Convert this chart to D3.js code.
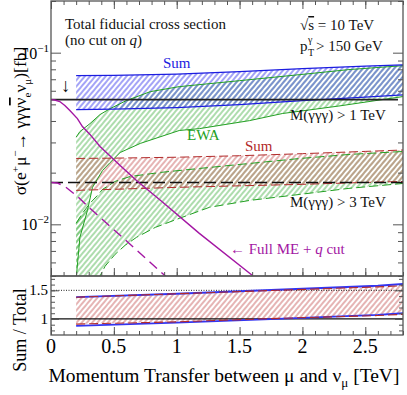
<!DOCTYPE html>
<html>
<head>
<meta charset="utf-8">
<title>Total fiducial cross section</title>
<script src="https://d3js.org/d3.v7.min.js"></script>
<style>
  body { margin: 0; background: #fff; }
  svg, svg text { font-family: 'Liberation Serif', 'Times New Roman', Times, 'DejaVu Serif', serif; }
  .frame { fill: none; stroke: #555; stroke-width: 1.3; }
  .axis .domain { display: none; }
  .axis .tick line { stroke: #555; stroke-width: 1; }
</style>
</head>
<body>
<svg id="chart" width="407" height="395" font-family="Liberation Serif, Times New Roman, serif"></svg>
<script>
// ---- data ----
const qSum    = [0.2, 0.5, 1.0, 1.5, 2.0, 2.5, 2.8];
const sum1Up  = [0.0735, 0.0737, 0.0750, 0.0775, 0.0807, 0.0835, 0.0848];
const sum1Lo  = [0.0466, 0.0469, 0.0479, 0.0498, 0.0526, 0.0551, 0.0568];
const sum3Up  = [0.0242, 0.0243, 0.0246, 0.0251, 0.0258, 0.0266, 0.0271];
const sum3Lo  = [0.01577, 0.01599, 0.01642, 0.01676, 0.01710, 0.01754, 0.01778];

const ewa1UpQ = [0.2, 0.23, 0.31, 0.39, 0.47, 0.6, 0.79, 1.02, 1.5, 1.98, 2.37, 2.8];
const ewa1Up  = [0.0322, 0.0347, 0.0386, 0.0436, 0.0472, 0.0526, 0.0593, 0.0634, 0.0687, 0.0745, 0.0797, 0.0840];
const ewa1LoQ = [0.2, 0.23, 0.29, 0.33, 0.41, 0.47, 0.55, 0.71, 1.02, 1.18, 1.58, 1.84, 2.29, 2.8];
const ewa1Lo  = [0.0048, 0.0084, 0.01206, 0.01641, 0.0206, 0.0229, 0.0262, 0.0296, 0.0352, 0.0361, 0.0402, 0.0442, 0.0489, 0.0555];

const ewa3UpQ = [0.2, 0.25, 0.31, 0.37, 0.41, 0.51, 0.63, 0.87, 1.18, 1.58, 1.98, 2.37, 2.8];
const ewa3Up  = [0.01014, 0.01159, 0.01325, 0.01475, 0.01598, 0.01778, 0.0190, 0.02006, 0.02116, 0.02263, 0.02419, 0.02553, 0.02657];
const ewa3LoQ = [0.2, 0.39, 0.43, 0.51, 0.59, 0.68, 0.83, 1.02, 1.26, 1.58, 1.98, 2.37, 2.8];
const ewa3Lo  = [0.0025, 0.00498, 0.0057, 0.00669, 0.00755, 0.0084, 0.0096, 0.01083, 0.01256, 0.01378, 0.01494, 0.0162, 0.0173];

const fullQ   = [0, 0.03, 0.07, 0.11, 0.15, 0.21, 0.25, 0.31, 0.39, 0.55, 0.68, 0.87, 1.18, 1.6];
const full1   = [0.0533, 0.0530, 0.0519, 0.0492, 0.0460, 0.0413, 0.0371, 0.0334, 0.0284, 0.0220, 0.0180, 0.0138, 0.00886, 0.00505];
const full3Q  = [0, 0.05, 0.11, 0.21, 0.31, 0.55, 0.92];
const full3   = [0.01754, 0.01742, 0.01663, 0.01455, 0.01239, 0.00863, 0.00492];

const total1 = 0.0533;   // black solid, M > 1 TeV
const total3 = 0.01754;  // black dashed, M > 3 TeV

const ratioQ      = [0.2, 1.0, 1.8, 2.6, 2.8];
const ratioRedUp  = [1.38, 1.44, 1.50, 1.56, 1.58];
const ratioRedLo  = [0.91, 0.95, 1.01, 1.06, 1.08];
const ratioBlueUp = [1.38, 1.44, 1.51, 1.58, 1.61];
const ratioBlueLo = [0.88, 0.935, 1.0, 1.07, 1.10];

const xTicks = [0, 0.5, 1, 1.5, 2, 2.5];

// ---- colours ----
const BLUE = '#1c1ce0', GREEN = '#22a022', RED = '#b22a2a', PURPLE = '#a316a3';

const zip = (q, v) => q.map((d, i) => ({ q: d, v: v[i] }));

const svg = d3.select('#chart');
const L = 51, R = 403, T = 1, B1 = 276, B2 = 335;

const x = d3.scaleLinear().domain([0, 2.8]).range([L, R]);
const y = d3.scaleLog().domain([0.005, 0.2]).range([B1, T]);
const yr = d3.scaleLinear().domain([0.72, 1.75]).range([B2, B1]);

const defs = svg.append('defs');
defs.append('clipPath').attr('id', 'clipMain')
  .append('rect').attr('x', L).attr('y', T).attr('width', R - L).attr('height', B1 - T);
defs.append('clipPath').attr('id', 'clipRatio')
  .append('rect').attr('x', L).attr('y', B1).attr('width', R - L).attr('height', B2 - B1);

function hatch(id, color) {
  const p = defs.append('pattern').attr('id', id)
    .attr('patternUnits', 'userSpaceOnUse')
    .attr('width', 4).attr('height', 4)
    .attr('patternTransform', 'rotate(40)');
  p.append('line').attr('x1', 2).attr('y1', 0).attr('x2', 2).attr('y2', 4)
    .attr('stroke', color).attr('stroke-width', 1);
}
hatch('hBlue', '#4848ee');
hatch('hGreen', '#5cba5c');
hatch('hRed', '#cc6a6a');

const main = svg.append('g').attr('clip-path', 'url(#clipMain)');
const ratio = svg.append('g').attr('clip-path', 'url(#clipRatio)');

const lineM = d3.line().x(d => x(d.q)).y(d => y(d.v));
const lineR = d3.line().x(d => x(d.q)).y(d => yr(d.v));

// band polygon: upper forward, lower back
function band(g, line, up, lo, fill) {
  g.append('path')
    .attr('d', line(up.concat(lo.slice().reverse())) + 'Z')
    .attr('fill', fill).attr('stroke', 'none');
}
function curve(g, line, data, color, width, dash) {
  g.append('path').attr('d', line(data))
    .attr('fill', 'none').attr('stroke', color)
    .attr('stroke-width', width)
    .attr('stroke-dasharray', dash || null);
}

// hatched bands
band(main, lineM, zip(ewa3UpQ, ewa3Up), zip(ewa3LoQ, ewa3Lo), 'url(#hGreen)');
band(main, lineM, zip(ewa1UpQ, ewa1Up), zip(ewa1LoQ, ewa1Lo), 'url(#hGreen)');
band(main, lineM, zip(qSum, sum3Up), zip(qSum, sum3Lo), 'url(#hRed)');
band(main, lineM, zip(qSum, sum1Up), zip(qSum, sum1Lo), 'url(#hBlue)');

// band edges
curve(main, lineM, zip(ewa1UpQ, ewa1Up), GREEN, 1);
curve(main, lineM, zip(ewa1LoQ, ewa1Lo), GREEN, 1);
curve(main, lineM, zip(ewa3UpQ, ewa3Up), GREEN, 1, '9,4');
curve(main, lineM, zip(ewa3LoQ, ewa3Lo), GREEN, 1, '9,4');
curve(main, lineM, zip(qSum, sum3Up), RED, 1, '9,4');
curve(main, lineM, zip(qSum, sum3Lo), RED, 1, '9,4');
curve(main, lineM, zip(qSum, sum1Up), BLUE, 1.2);
curve(main, lineM, zip(qSum, sum1Lo), BLUE, 1.2);

// totals
curve(main, lineM, zip([0, 2.76], [total1, total1]), '#222', 1.6);
curve(main, lineM, zip([0, 2.8], [total3, total3]), '#111', 1.5, '12,5');

// full ME + q cut
curve(main, lineM, zip(fullQ, full1), PURPLE, 1.4);
curve(main, lineM, zip(full3Q, full3), PURPLE, 1.4, '10,6');

// ratio panel
band(ratio, lineR, zip(ratioQ, ratioRedUp), zip(ratioQ, ratioRedLo), 'url(#hRed)');
curve(ratio, lineR, zip([0, 2.8], [1.5, 1.5]), '#222', 1, '1,1.5');
curve(ratio, lineR, zip([0, 2.8], [1, 1]), '#111', 1.3);
curve(ratio, lineR, zip(ratioQ, ratioBlueUp), '#3434f0', 1.8);
curve(ratio, lineR, zip(ratioQ, ratioBlueLo), '#3434f0', 1.8);
curve(ratio, lineR, zip(ratioQ, ratioRedUp), RED, 1.1, '9,4');
curve(ratio, lineR, zip(ratioQ, ratioRedLo), RED, 1.1, '9,4');

// ---- axes (ticks pointing inward) ----
const xMinor = d3.range(0, 2.81, 0.1).map(d => +d.toFixed(1));
function xAxes(yPos, dir, g) {
  const ax = dir > 0 ? d3.axisBottom : d3.axisTop;
  g.append('g').attr('class', 'axis').attr('transform', `translate(0,${yPos})`)
    .call(ax(x).tickValues(xMinor).tickSize(-4).tickFormat(''));
  g.append('g').attr('class', 'axis').attr('transform', `translate(0,${yPos})`)
    .call(ax(x).tickValues(xTicks).tickSize(-8).tickFormat(''));
}
const axes = svg.append('g');
xAxes(B1, 1, axes);
xAxes(T, -1, axes);
xAxes(B2, 1, axes);

const yMinor = [], yMajor = [0.01, 0.1];
for (const e of [0.001, 0.01, 0.1]) for (let k = 2; k <= 9; k++) {
  const v = +(k * e).toPrecision(2);
  if (v >= 0.005 && v <= 0.2) yMinor.push(v);
}
[[d3.axisLeft, L], [d3.axisRight, R]].forEach(([ax, xp]) => {
  axes.append('g').attr('class', 'axis').attr('transform', `translate(${xp},0)`)
    .call(ax(y).tickValues(yMinor).tickSize(-5).tickFormat(''));
  axes.append('g').attr('class', 'axis').attr('transform', `translate(${xp},0)`)
    .call(ax(y).tickValues(yMajor).tickSize(-10).tickFormat(''));
  axes.append('g').attr('class', 'axis').attr('transform', `translate(${xp},0)`)
    .call(ax(yr).tickValues(d3.range(0.8, 1.75, 0.1)).tickSize(-4).tickFormat(''));
  axes.append('g').attr('class', 'axis').attr('transform', `translate(${xp},0)`)
    .call(ax(yr).tickValues([1, 1.5]).tickSize(-8).tickFormat(''));
});

svg.append('rect').attr('class', 'frame').attr('x', L).attr('y', T).attr('width', R - L).attr('height', B1 - T);
svg.append('rect').attr('class', 'frame').attr('x', L).attr('y', B1).attr('width', R - L).attr('height', B2 - B1);

// tick labels
svg.selectAll('.xl').data(xTicks).enter().append('text')
  .attr('x', d => x(d)).attr('y', 353).attr('text-anchor', 'middle')
  .attr('font-size', 20).text(d => d);

yMajor.forEach((v, i) => {
  const t = svg.append('text').attr('x', 49).attr('y', y(v) + 6)
    .attr('text-anchor', 'end').attr('font-size', 16);
  t.append('tspan').text('10');
  t.append('tspan').attr('dy', -7).attr('font-size', 11).text(i === 0 ? '−2' : '−1');
});
[1, 1.5].forEach(v => {
  svg.append('text').attr('x', 48).attr('y', yr(v) + 5)
    .attr('text-anchor', 'end').attr('font-size', 15).text(v);
});

// axis titles
svg.append('text').attr('x', 224).attr('y', 382).attr('text-anchor', 'middle')
  .attr('font-size', 19.5)
  .call(t => {
    t.append('tspan').text('Momentum Transfer between μ and ν');
    t.append('tspan').attr('dy', 5).attr('font-size', 13).text('μ');
    t.append('tspan').attr('dy', -5).text(' [TeV]');
  });

const yl = svg.append('text').attr('transform', 'translate(26,121) rotate(-90)')
  .attr('text-anchor', 'middle').attr('font-size', 17.5);
yl.append('tspan').text('σ(e');
yl.append('tspan').attr('dy', -7).attr('font-size', 11).text('+');
yl.append('tspan').attr('dy', 7).text('μ');
yl.append('tspan').attr('dy', -7).attr('font-size', 11).text('−');
yl.append('tspan').attr('dy', 7).text('→ γγγ');
yl.append('tspan').style('text-decoration', 'overline').text('ν');
yl.append('tspan').attr('dy', 5).attr('font-size', 11).text('e');
yl.append('tspan').attr('dy', -5).text('ν');
yl.append('tspan').attr('dy', 5).attr('font-size', 11).text('μ');
yl.append('tspan').attr('dy', -5).text(')[fb]');

svg.append('text').attr('transform', 'translate(26,330) rotate(-90)')
  .attr('text-anchor', 'middle').attr('font-size', 18).text('Sum / Total');

// annotations
function note(xp, yp, txt, color, size) {
  return svg.append('text').attr('x', xp).attr('y', yp)
    .attr('font-size', size || 15).attr('fill', color || '#111').text(txt);
}
note(65, 29, 'Total fiducial cross section');
note(65, 45, '(no cut on ').call(t => {
  t.append('tspan').attr('font-style', 'italic').text('q');
  t.append('tspan').text(')');
});
note(300, 30, '√').call(t => {
  t.append('tspan').style('text-decoration', 'overline').text('s');
  t.append('tspan').text(' = 10 TeV');
});
note(300, 51, 'p');
note(308, 43, 'γ', '#111', 10);
note(308, 56, 'T', '#111', 10);
note(316, 51, ' > 150 GeV');
note(61, 92, '↓', '#111', 19);
note(163, 68, 'Sum', BLUE);
note(290, 120, 'M(γγγ) > 1 TeV');
note(187, 140, 'EWA', GREEN);
note(245, 151, 'Sum', RED);
note(290, 207, 'M(γγγ) > 3 TeV');
note(230, 254, '← Full ME + ', PURPLE).call(t => {
  t.append('tspan').attr('font-style', 'italic').text('q');
  t.append('tspan').text(' cut');
});
</script>
</body>
</html>
